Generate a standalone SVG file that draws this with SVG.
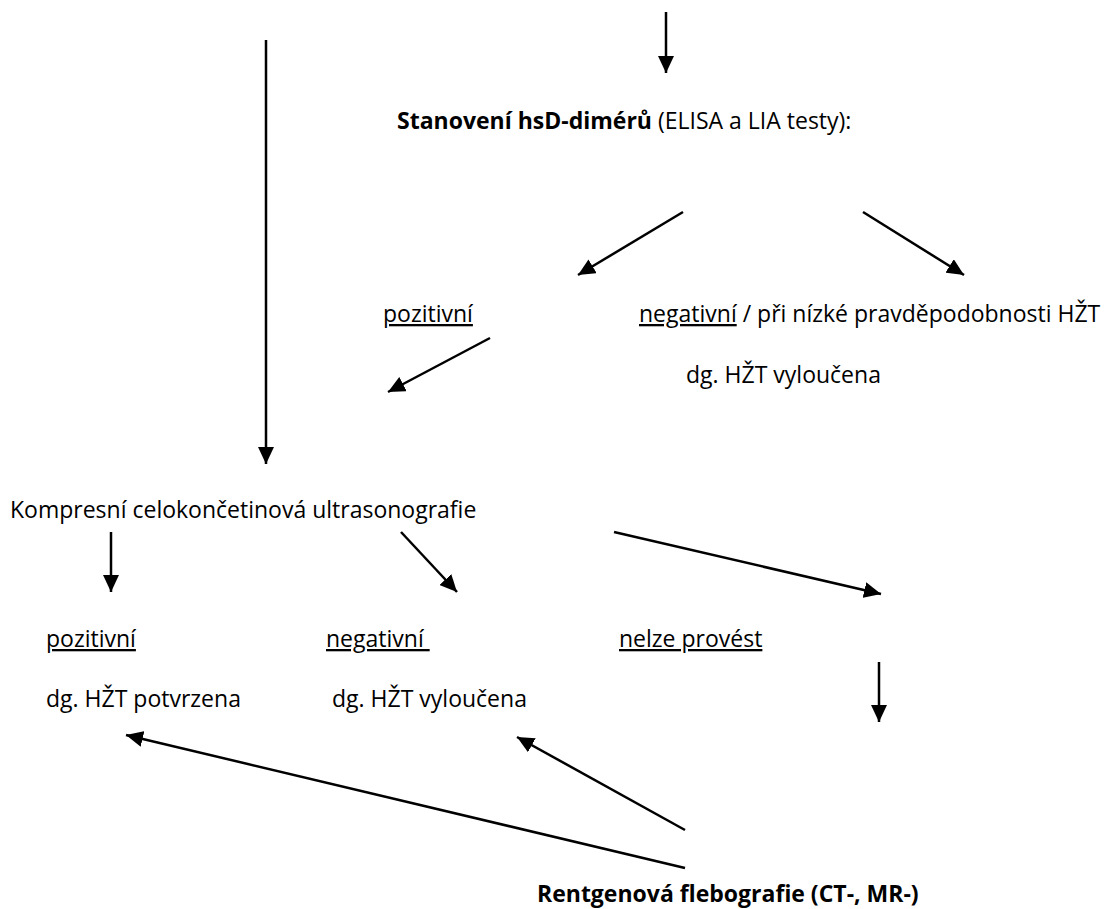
<svg xmlns="http://www.w3.org/2000/svg" width="1106" height="909" viewBox="0 0 1106 909">
<style>
text{font-family:"Open Sans","Noto Sans","Liberation Sans",sans-serif;font-size:23px;fill:#000}
.b{font-weight:bold}
.u{text-decoration:underline}
.c line{stroke:#000;stroke-width:2.5;marker-end:url(#ah)}
</style>
<defs>
<marker id="ah" markerUnits="userSpaceOnUse" markerWidth="18" markerHeight="16" refX="17" refY="8" orient="auto">
<path d="M0,0 L17,8 L0,16 z" fill="#000"/>
</marker>
</defs>
<rect width="1106" height="909" fill="#fff"/>
<g class="c" id="connectors">
<line x1="266" y1="40" x2="266" y2="464"/>
<line x1="666" y1="12" x2="666" y2="73"/>
<line x1="683" y1="212" x2="578" y2="275"/>
<line x1="863" y1="212" x2="964" y2="275"/>
<line x1="490" y1="338" x2="388" y2="392"/>
<line x1="111" y1="532" x2="111" y2="592"/>
<line x1="401" y1="532" x2="457" y2="592"/>
<line x1="614" y1="532" x2="881" y2="594"/>
<line x1="879" y1="662" x2="879" y2="722"/>
<line x1="685" y1="830" x2="517" y2="737"/>
<line x1="685" y1="868" x2="126" y2="735"/>
</g>
<g id="n-stanoveni"><text x="397" y="129"><tspan class="b">Stanovení hsD-dimérů</tspan> (ELISA a LIA testy):</text></g>
<g id="n-pozitivni1"><text x="383" y="322" class="u">pozitivní</text></g>
<g id="n-negativni1"><text x="639" y="322"><tspan class="u">negativní</tspan> / při nízké pravděpodobnosti HŽT</text></g>
<g id="n-vyloucena1"><text x="686" y="383">dg. HŽT vyloučena</text></g>
<g id="n-kompresni"><text x="10" y="518">Kompresní celokončetinová ultrasonografie</text></g>
<g id="n-pozitivni2"><text x="46" y="647" class="u">pozitivní</text></g>
<g id="n-negativni2"><text x="326" y="647" class="u">negativní&#160;</text></g>
<g id="n-nelze"><text x="619" y="647" class="u">nelze provést</text></g>
<g id="n-potvrzena"><text x="46" y="707">dg. HŽT potvrzena</text></g>
<g id="n-vyloucena2"><text x="332" y="707">dg. HŽT vyloučena</text></g>
<g id="n-rentgen"><text x="537" y="902" class="b">Rentgenová flebografie (CT-, MR-)</text></g>
</svg>
